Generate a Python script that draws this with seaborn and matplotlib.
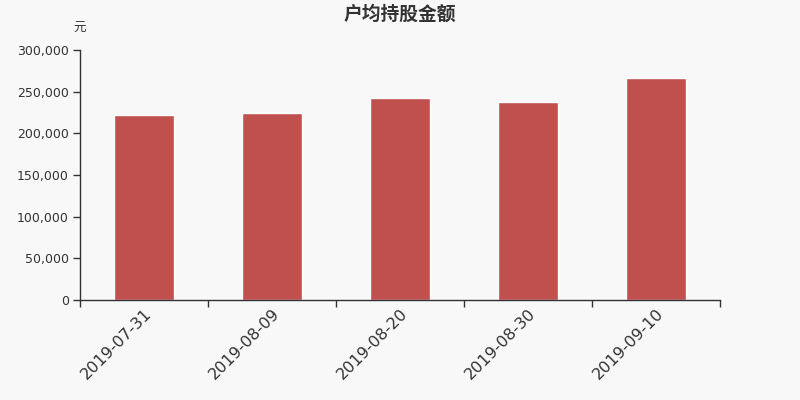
import matplotlib
matplotlib.use("Agg")
import matplotlib.pyplot as plt
import seaborn as sns
import pandas as pd
from matplotlib.ticker import FuncFormatter, FixedLocator

dates = ["2019-07-31", "2019-08-09", "2019-08-20", "2019-08-30", "2019-09-10"]
amounts = [222000, 224000, 242400, 237600, 266400]

df = pd.DataFrame({"date": dates, "amount": amounts})

sns.set_style("white")
plt.rcParams["font.family"] = ["DejaVu Sans", "Noto Sans CJK SC"]

bg = "#f8f8f8"
fig = plt.figure(figsize=(8, 4), dpi=100, facecolor=bg)
ax = fig.add_axes([0.1, 0.25, 0.8, 0.625])
ax.set_facecolor(bg)

sns.barplot(data=df, x="date", y="amount", color="#c0504d", width=0.47,
            saturation=1, ax=ax)

ax.set_xlim(-0.5, len(dates) - 0.5)
ax.set_ylim(0, 300000)
ax.yaxis.set_major_locator(FixedLocator(range(0, 300001, 50000)))
ax.yaxis.set_major_formatter(FuncFormatter(lambda v, p: f"{int(v):,}"))

# ticks at category boundaries, labels at bar centres
ax.set_xticks([i - 0.5 for i in range(len(dates) + 1)])
ax.set_xticklabels([])
ax.set_xticks(range(len(dates)), minor=True)
ax.set_xticklabels(dates, minor=True, rotation=45, ha="right",
                   rotation_mode="anchor", fontsize=11.5, color="#333333")
ax.tick_params(axis="x", which="minor", bottom=True, length=0, pad=4)
ax.tick_params(axis="x", which="major", bottom=True, length=5, width=1,
               color="#333333", direction="out")
ax.tick_params(axis="y", left=True, length=5, width=1, color="#333333",
               labelsize=9, labelcolor="#333333", pad=3)

for s in ["top", "right"]:
    ax.spines[s].set_visible(False)
for s in ["left", "bottom"]:
    ax.spines[s].set_color("#333333")
    ax.spines[s].set_linewidth(1)

ax.set_xlabel("")
ax.set_ylabel("")
fig.text(0.5, 0.965, "户均持股金额", ha="center", va="center", fontsize=13.5,
         fontweight="bold", color="#333333")
fig.text(0.1, 0.93, "元", ha="center", va="center", fontsize=9, color="#333333")

fig.savefig("out.png", dpi=100, facecolor=bg)
